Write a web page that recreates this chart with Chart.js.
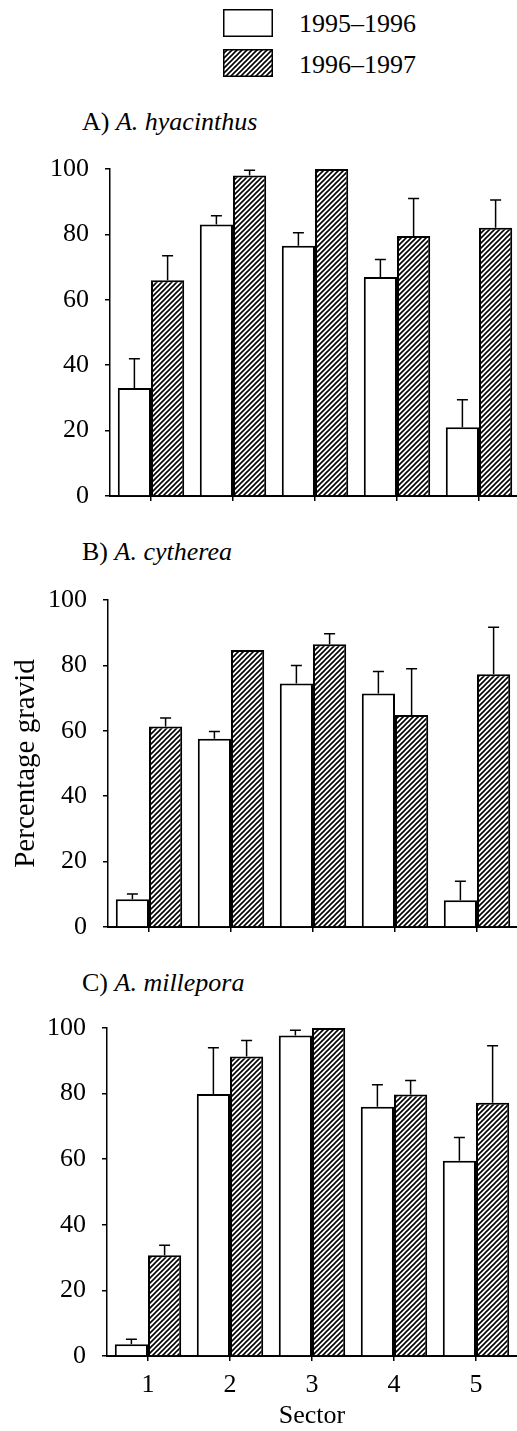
<!DOCTYPE html>
<html>
<head>
<meta charset="utf-8">
<script src="https://cdn.jsdelivr.net/npm/chart.js@4.4.1/dist/chart.umd.min.js"></script>
<style>
html, body { margin: 0; padding: 0; background: #fff; overflow: hidden; width: 517px; height: 1431px; }
body { position: relative; font-family: 'Liberation Serif', 'Times New Roman', serif; color: #000; }
canvas { position: absolute; left: 0; }
.t { position: absolute; font-size: 26px; line-height: 26px; white-space: nowrap; }
</style>
</head>
<body>

<canvas id="legWhite" width="50" height="28" style="left:223px;top:9px"></canvas>
<canvas id="legHatch" width="50" height="28" style="left:223px;top:49px"></canvas>
<div class="t" style="left:299px;top:11px">1995–1996</div>
<div class="t" style="left:299px;top:52px">1996–1997</div>

<div class="t" style="left:82px;top:109px">A) <i>A. hyacinthus</i></div>
<div class="t" style="left:82px;top:539px">B) <i>A. cytherea</i></div>
<div class="t" style="left:82px;top:970px">C) <i>A. millepora</i></div>

<canvas id="chartA"></canvas>
<canvas id="chartB"></canvas>
<canvas id="chartC"></canvas>

<script>
// sectors along the x axis
var sectors = ['1', '2', '3', '4', '5'];
var seasons = ['1995–1996', '1996–1997'];

// A) A. hyacinthus
var hyacinthus9596 = [33, 83, 76.5, 67, 21];
var hyacinthus9697 = [66, 98, 100, 79.5, 82];
var hyacinthusErr9596 = [9, 2.7, 4, 5.3, 8.4];
var hyacinthusErr9697 = [7.5, 1.6, 0, 11.5, 8.5];

// B) A. cytherea
var cytherea9596 = [8.5, 57.6, 74.5, 71.4, 8.2];
var cytherea9697 = [61.3, 84.7, 86.5, 64.8, 77.3];
var cythereaErr9596 = [1.6, 2.2, 5.5, 6.7, 5.8];
var cythereaErr9697 = [2.6, 0, 3.2, 14.2, 14.4];

// C) A. millepora
var millepora9596 = [3.6, 79.9, 97.7, 76, 59.5];
var millepora9697 = [30.7, 91.3, 100, 79.7, 77.2];
var milleporaErr9596 = [1.5, 14.1, 1.6, 6.7, 7.1];
var milleporaErr9697 = [3.1, 4.9, 0, 4.3, 17.4];

var FONT = 'Liberation Serif';

function hatchPattern(ctx) {
    var c = document.createElement('canvas');
    c.width = 5; c.height = 5;
    var g = c.getContext('2d');
    g.fillStyle = '#fff';
    g.fillRect(0, 0, 5, 5);
    g.strokeStyle = '#000';
    g.lineWidth = 1.6;
    g.beginPath();
    g.moveTo(0, 5); g.lineTo(5, 0);
    g.moveTo(-1, 1); g.lineTo(1, -1);
    g.moveTo(4, 6); g.lineTo(6, 4);
    g.stroke();
    return ctx.createPattern(c, 'repeat');
}

// legend boxes
[['legWhite', false], ['legHatch', true]].forEach(function (b) {
    var ctx = document.getElementById(b[0]).getContext('2d');
    ctx.fillStyle = b[1] ? hatchPattern(ctx) : '#fff';
    ctx.fillRect(0, 0, 50, 28);
    ctx.strokeStyle = '#000';
    ctx.lineWidth = 1.5;
    ctx.strokeRect(0.75, 0.75, 48.5, 26.5);
});

// draws the error bars above each bar
var errorBars = {
    id: 'errorBars',
    afterDatasetsDraw: function (chart) {
        var ctx = chart.ctx, y = chart.scales.y;
        chart.data.datasets.forEach(function (ds, i) {
            chart.getDatasetMeta(i).data.forEach(function (bar, j) {
                var e = ds.errors[j];
                if (!e) return;
                var top = y.getPixelForValue(ds.data[j] + e);
                ctx.save();
                ctx.strokeStyle = '#000';
                ctx.lineWidth = 1.5;
                ctx.beginPath();
                ctx.moveTo(bar.x, bar.y);
                ctx.lineTo(bar.x, top);
                ctx.moveTo(bar.x - 5.5, top);
                ctx.lineTo(bar.x + 5.5, top);
                ctx.stroke();
                ctx.restore();
            });
        });
    }
};

function makePanel(id, top, left, v1, v2, e1, e2, bottomAxis, yTitle) {
    var canvas = document.getElementById(id);
    var xH = bottomAxis ? 75 : 10;
    var height = bottomAxis ? 1431 - top : 357;
    canvas.width = left + 410;
    canvas.height = height;
    canvas.style.top = top + 'px';
    canvas.style.width = (left + 410) + 'px';
    canvas.style.height = height + 'px';
    var ctx = canvas.getContext('2d');

    return new Chart(ctx, {
        type: 'bar',
        data: {
            labels: sectors,
            datasets: [{
                label: seasons[0],
                data: v1,
                errors: e1,
                backgroundColor: '#fff',
                borderColor: '#000',
                borderWidth: 2
            }, {
                label: seasons[1],
                data: v2,
                errors: e2,
                backgroundColor: hatchPattern(ctx),
                borderColor: '#000',
                borderWidth: 2
            }]
        },
        options: {
            responsive: false,
            animation: false,
            devicePixelRatio: 1,
            barPercentage: 1.0,
            categoryPercentage: 0.81,
            layout: { padding: { top: 20, left: 0, right: 0, bottom: 0 } },
            plugins: { legend: { display: false }, tooltip: { enabled: false } },
            scales: {
                x: {
                    offset: true,
                    grid: { offset: false, drawOnChartArea: false, drawTicks: true, tickLength: 5, color: '#000', lineWidth: 1.5 },
                    border: { display: true, color: '#000', width: 2 },
                    ticks: { display: bottomAxis, color: '#000', font: { family: FONT, size: 26 }, padding: 9, maxRotation: 0 },
                    title: { display: bottomAxis, text: 'Sector', color: '#000', font: { family: FONT, size: 26 }, padding: { top: 0, bottom: -1 } },
                    afterFit: function (s) { s.height = xH; s.paddingLeft = 0; s.paddingRight = 0; }
                },
                y: {
                    min: 0,
                    max: 100,
                    ticks: { stepSize: 20, color: '#000', font: { family: FONT, size: 26 }, padding: 16 },
                    grid: { drawOnChartArea: false, tickLength: 5, color: '#000', lineWidth: 1.5 },
                    border: { color: '#000', width: 1.5 },
                    title: { display: !!yTitle, text: yTitle || '', color: '#000', font: { family: FONT, size: 29 }, padding: { top: 9, bottom: 0 } },
                    afterFit: function (s) { s.width = left; s.paddingTop = 0; s.paddingBottom = 0; }
                }
            }
        },
        plugins: [errorBars]
    });
}

makePanel('chartA', 149, 110, hyacinthus9596, hyacinthus9697, hyacinthusErr9596, hyacinthusErr9697, false, null);
makePanel('chartB', 580, 108, cytherea9596, cytherea9697, cythereaErr9596, cythereaErr9697, false, 'Percentage gravid');
makePanel('chartC', 1008, 107, millepora9596, millepora9697, milleporaErr9596, milleporaErr9697, true, null);
</script>
</body>
</html>
